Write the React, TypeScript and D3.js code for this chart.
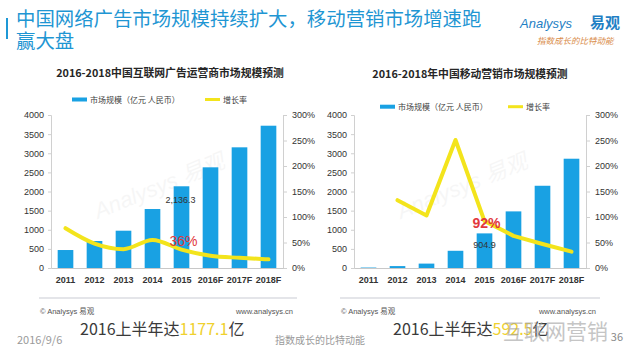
import { useEffect, useRef } from 'react'
import * as d3 from 'd3'

// categories shared by both charts
const years = ['2011', '2012', '2013', '2014', '2015', '2016F', '2017F', '2018F']

// 中国互联网广告运营商市场规模 (亿元) + 增长率 (%)
const adSize = [470, 706, 975, 1542, 2136.3, 2632, 3155, 3720]
const adGrowth = [78, 48, 37, 55, 36, 24, 20, 17]

// 中国移动营销市场规模 (亿元) + 增长率 (%)
const mobileSize = [12, 50, 115, 450, 904.9, 1480, 2150, 2857]
const mobileGrowth: (number | null)[] = [null, 133, 103, 251, 92, 63, 47, 32]

const sizeTicks = [0, 500, 1000, 1500, 2000, 2500, 3000, 3500, 4000]
const rateTicks = [0, 50, 100, 150, 200, 250, 300]

const BLUE = '#19a1e3'
const YELLOW = '#f3e41c'
const RED = '#e2383d'
const FONT = '"Liberation Sans", "Noto Sans CJK SC", sans-serif'
const CJK = '"Noto Sans CJK SC", sans-serif'

interface ChartCfg {
  left: number
  right: number
  title: string
  titleX: number
  titleY: number
  legendY: number
  legendBarX: number
  legendLineX: number
  sizes: number[]
  rates: (number | null)[]
  smooth: boolean
  hiIndex: number
  sizeLabel: string
  rateLabel: string
  rateBold: boolean
  sizeLabelInside: boolean
  sepLeft: number
  sepRight: number
  bigX: number
  bigNum: string
}

const charts: ChartCfg[] = [
  {
    left: 51, right: 283,
    title: '2016-2018中国互联网广告运营商市场规模预测', titleX: 170, titleY: 77,
    legendY: 99.5, legendBarX: 72, legendLineX: 205,
    sizes: adSize, rates: adGrowth, smooth: true, hiIndex: 4,
    sizeLabel: '2,136.3', rateLabel: '36%', rateBold: false, sizeLabelInside: false,
    sepLeft: 39, sepRight: 297, bigX: 80, bigNum: '1177.1',
  },
  {
    left: 354, right: 586,
    title: '2016-2018年中国移动营销市场规模预测', titleX: 470, titleY: 78,
    legendY: 106.7, legendBarX: 380, legendLineX: 508,
    sizes: mobileSize, rates: mobileGrowth, smooth: false, hiIndex: 4,
    sizeLabel: '904.9', rateLabel: '92%', rateBold: true, sizeLabelInside: true,
    sepLeft: 340, sepRight: 600, bigX: 393, bigNum: '592.5',
  },
]

const TOP = 115
const BOTTOM = 268

function drawChart(svg: d3.Selection<SVGSVGElement, unknown, null, undefined>, c: ChartCfg) {
  const g = svg.append('g')
  const x = d3.scaleBand().domain(years).range([c.left, c.right]).paddingInner(0.46).paddingOuter(0.23)
  const y = d3.scaleLinear().domain([0, 4000]).range([BOTTOM, TOP])
  const y2 = d3.scaleLinear().domain([0, 300]).range([BOTTOM, TOP])

  // faint watermark
  g.append('text')
    .attr('transform', `translate(${(c.left + c.right) / 2 - 5},${TOP + 78}) rotate(-22)`)
    .attr('text-anchor', 'middle')
    .attr('font-family', FONT)
    .attr('font-size', 22)
    .attr('font-style', 'italic')
    .attr('fill', '#000')
    .attr('opacity', 0.03)
    .text('Analysys 易观')

  // title
  g.append('text')
    .attr('x', c.titleX).attr('y', c.titleY)
    .attr('text-anchor', 'middle')
    .attr('font-family', CJK)
    .attr('font-size', 10.8)
    .attr('font-weight', 700)
    .attr('fill', '#262626')
    .text(c.title)

  // legend
  g.append('rect')
    .attr('x', c.legendBarX).attr('y', c.legendY - 2)
    .attr('width', 15).attr('height', 4)
    .attr('fill', BLUE)
  g.append('text')
    .attr('x', c.legendBarX + 18).attr('y', c.legendY + 3)
    .attr('font-family', CJK).attr('font-size', 8).attr('fill', '#404040')
    .text('市场规模（亿元 人民币）')
  g.append('line')
    .attr('x1', c.legendLineX).attr('x2', c.legendLineX + 15)
    .attr('y1', c.legendY).attr('y2', c.legendY)
    .attr('stroke', YELLOW).attr('stroke-width', 3)
  g.append('text')
    .attr('x', c.legendLineX + 18).attr('y', c.legendY + 3)
    .attr('font-family', CJK).attr('font-size', 8).attr('fill', '#404040')
    .text('增长率')

  // axes
  const axisL = d3.axisLeft(y).tickValues(sizeTicks).tickSize(3).tickPadding(4)
    .tickFormat((d) => `${d}`)
  const gl = g.append('g').attr('transform', `translate(${c.left},0)`).call(axisL)
  const axisR = d3.axisRight(y2).tickValues(rateTicks).tickSize(4).tickPadding(5)
    .tickFormat((d) => `${d}%`)
  const gr = g.append('g').attr('transform', `translate(${c.right},0)`).call(axisR)
  for (const ax of [gl, gr]) {
    ax.select('.domain').attr('stroke', '#d0d0d0')
    ax.selectAll('.tick line').attr('stroke', '#d0d0d0')
    ax.selectAll('.tick text')
      .attr('font-family', FONT).attr('font-size', 9).attr('fill', '#333')
  }
  const gx = g.append('g').attr('transform', `translate(0,${BOTTOM})`)
    .call(d3.axisBottom(x).tickSize(0).tickPadding(9))
  gx.select('.domain').attr('stroke', '#c8c8c8')
  gx.selectAll('.tick text')
    .attr('font-family', FONT).attr('font-size', 9).attr('font-weight', 700).attr('fill', '#333')

  // bars
  g.selectAll('rect.bar')
    .data(c.sizes)
    .join('rect')
    .attr('class', 'bar')
    .attr('x', (_, i) => x(years[i])!)
    .attr('width', x.bandwidth())
    .attr('y', (d) => y(d))
    .attr('height', (d) => BOTTOM - y(d))
    .attr('fill', BLUE)

  // growth line
  const line = d3.line<number | null>()
    .defined((d) => d !== null)
    .x((_, i) => x(years[i])! + x.bandwidth() / 2)
    .y((d) => y2(d as number))
    .curve(c.smooth ? d3.curveMonotoneX : d3.curveLinear)
  g.append('path')
    .attr('d', line(c.rates))
    .attr('fill', 'none')
    .attr('stroke', YELLOW)
    .attr('stroke-width', 4)
    .attr('stroke-linejoin', 'round')
    .attr('stroke-linecap', 'round')

  // highlight labels
  const cx = x(years[c.hiIndex])! + x.bandwidth() / 2
  const sy = y(c.sizes[c.hiIndex]) + (c.sizeLabelInside ? 15 : 17)
  g.append('text')
    .attr('x', c.sizeLabelInside ? cx : cx - 1).attr('y', sy)
    .attr('text-anchor', 'middle')
    .attr('font-family', FONT).attr('font-size', 9).attr('fill', '#333')
    .text(c.sizeLabel)
  g.append('text')
    .attr('x', cx + 2).attr('y', y2(c.rates[c.hiIndex] as number) + (c.rateBold ? 7 : -4))
    .attr('text-anchor', 'middle')
    .attr('font-family', FONT).attr('font-size', 14)
    .attr('font-weight', c.rateBold ? 700 : 400)
    .attr('fill', RED)
    .text(c.rateLabel)

  // footer of the chart block
  g.append('line')
    .attr('x1', c.sepLeft).attr('x2', c.sepRight)
    .attr('y1', 298).attr('y2', 298)
    .attr('stroke', '#c9cbd3').attr('stroke-width', 1)
  g.append('text')
    .attr('x', c.sepLeft + 1).attr('y', 314)
    .attr('font-family', FONT).attr('font-size', 7.5).attr('fill', '#555')
    .text('© Analysys 易观')
  g.append('text')
    .attr('x', c.sepRight - 4).attr('y', 314)
    .attr('text-anchor', 'end')
    .attr('font-family', FONT).attr('font-size', 7.5).attr('fill', '#555')
    .text('www.analysys.cn')

  const big = g.append('text')
    .attr('x', c.bigX).attr('y', 335)
    .attr('font-family', CJK).attr('font-size', 16).attr('fill', '#3a3a3a')
  big.append('tspan').text('2016上半年达')
  big.append('tspan').attr('fill', '#efd12e').text(c.bigNum)
  big.append('tspan').text('亿')
}

export default function App() {
  const svgRef = useRef<SVGSVGElement>(null)

  useEffect(() => {
    if (!svgRef.current) return
    const svg = d3.select(svgRef.current)
    svg.selectAll('*').remove()

    svg.append('rect').attr('width', 634).attr('height', 362).attr('fill', '#fff')

    // header
    svg.append('rect').attr('x', 6).attr('y', 18).attr('width', 2).attr('height', 21).attr('fill', '#1e98d6')
    svg.append('text')
      .attr('x', 16).attr('y', 26)
      .attr('font-family', CJK).attr('font-size', 19.4).attr('fill', '#1f96d3')
      .text('中国网络广告市场规模持续扩大，移动营销市场增速跑')
    svg.append('text')
      .attr('x', 16).attr('y', 48)
      .attr('font-family', CJK).attr('font-size', 19.4).attr('fill', '#1f96d3')
      .text('赢大盘')

    // logo
    svg.append('text')
      .attr('x', 520).attr('y', 28)
      .attr('font-family', FONT).attr('font-size', 13).attr('font-style', 'italic')
      .attr('fill', '#1f7fc4')
      .text('Analysys')
    svg.append('text')
      .attr('x', 590).attr('y', 28)
      .attr('font-family', CJK).attr('font-size', 15).attr('font-weight', 700)
      .attr('fill', '#1f7fc4')
      .text('易观')
    svg.append('text')
      .attr('x', 537).attr('y', 44)
      .attr('font-family', CJK).attr('font-size', 8.5).attr('font-style', 'italic')
      .attr('fill', '#d98c4a')
      .text('指数成长的比特动能')

    charts.forEach((c) => drawChart(svg, c))

    // page footer
    svg.append('text')
      .attr('x', 17).attr('y', 344)
      .attr('font-family', CJK).attr('font-size', 11).attr('fill', '#9a9a9a')
      .text('2016/9/6')
    svg.append('text')
      .attr('x', 320).attr('y', 344)
      .attr('text-anchor', 'middle')
      .attr('font-family', CJK).attr('font-size', 10).attr('fill', '#9a9a9a')
      .text('指数成长的比特动能')
    svg.append('text')
      .attr('x', 623).attr('y', 341)
      .attr('text-anchor', 'end')
      .attr('font-family', CJK).attr('font-size', 11).attr('fill', '#8a8a8a')
      .text('36')

    // WeChat overlay watermark (sits over the right summary line, as in the source)
    svg.append('text')
      .attr('x', 503).attr('y', 339)
      .attr('font-family', CJK).attr('font-size', 21)
      .attr('fill', '#a0a0a0').attr('opacity', 0.6)
      .text('互联网营销')
  }, [])

  return (
    <div style={{ position: 'absolute', left: 0, top: 0 }}>
      <svg ref={svgRef} width={634} height={362} style={{ display: 'block' }} />
    </div>
  )
}
